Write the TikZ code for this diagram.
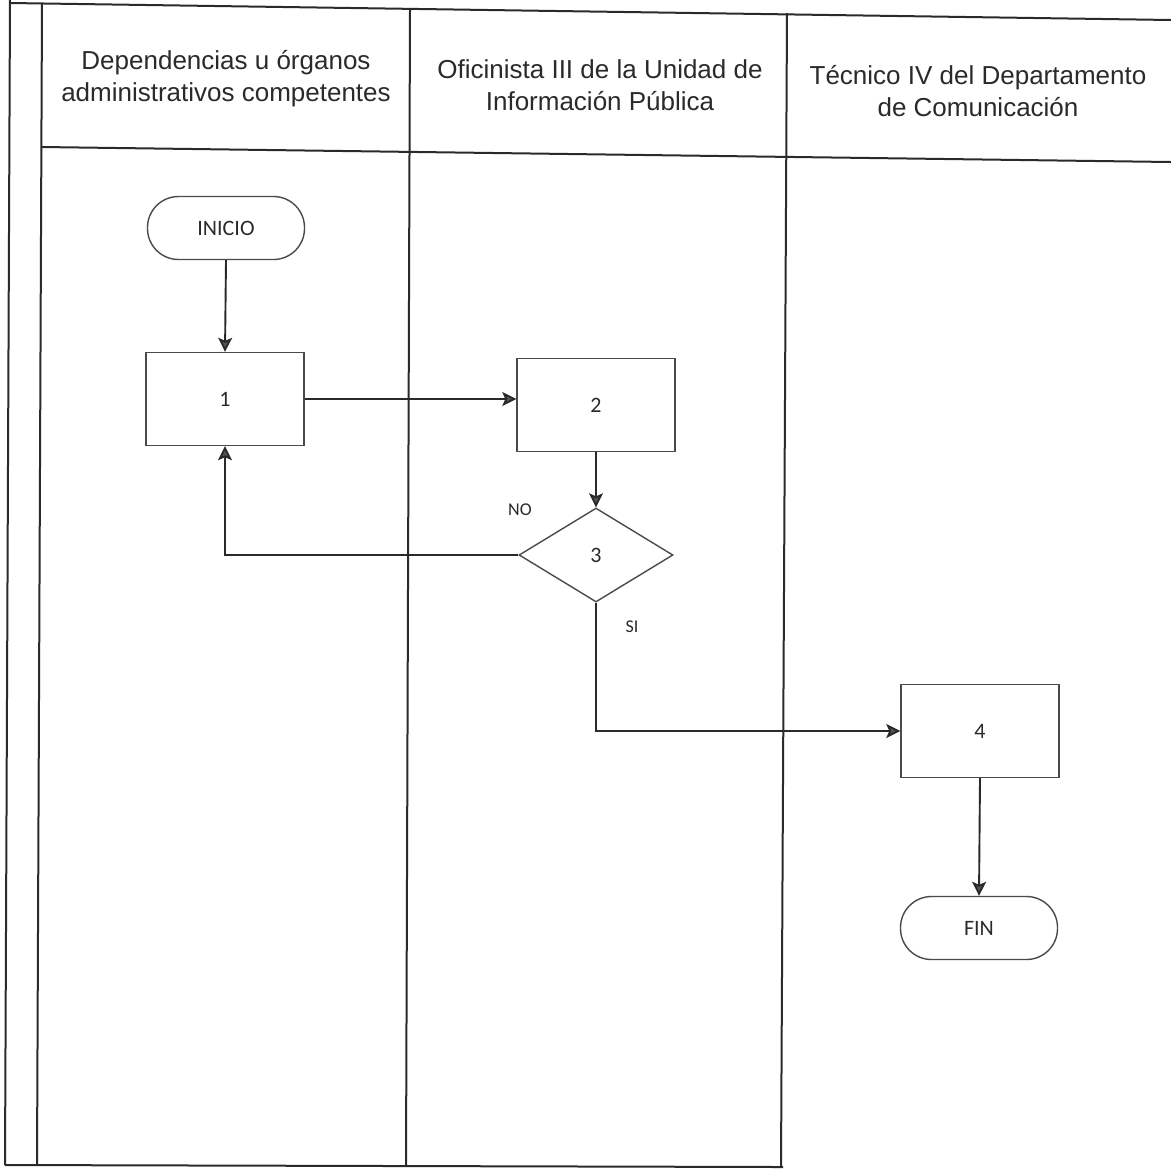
\documentclass[tikz,border=0pt]{standalone}
\usepackage{fontspec}
\setmainfont{Liberation Sans}
\newfontfamily\flowfont{Carlito}
\usetikzlibrary{shapes.geometric,arrows.meta}
\definecolor{ink}{HTML}{2A2A2A}
\definecolor{boxink}{HTML}{4A4A4A}
\definecolor{headfill}{HTML}{555555}
\begin{document}
\begin{tikzpicture}[x=0.5pt,y=-0.5pt,
  tableline/.style={draw=ink,line width=1pt},
  hdr/.style={align=center,text=ink,font=\fontsize{13}{16}\selectfont,inner sep=0pt},
  proc/.style={draw=boxink,line width=0.7pt,minimum width=79pt,minimum height=46.5pt,inner sep=0pt,font=\flowfont\fontsize{11}{13}\selectfont,text=ink},
  term/.style={draw=boxink,line width=0.7pt,minimum width=78.5pt,minimum height=31.5pt,rounded corners=15.5pt,inner sep=0pt,font=\flowfont\fontsize{11}{13}\selectfont,text=ink},
  decis/.style={draw=boxink,line width=0.7pt,shape=diamond,minimum width=77pt,minimum height=47pt,inner sep=0pt,font=\flowfont\fontsize{11}{13}\selectfont,text=ink},
  lbl/.style={font=\flowfont\fontsize{9}{11}\selectfont,text=ink,inner sep=0pt},
  flow/.style={draw=ink,line width=0.95pt,-{Stealth[length=7pt,width=7pt,inset=1.5pt,fill=headfill]}}
]
\useasboundingbox (0,0) rectangle (1171,1169);
% table frame
\draw[tableline] (10,0) -- (5,1165);
\draw[tableline] (42,3) -- (37,1165);
\draw[tableline] (410,9) -- (406,1166);
\draw[tableline] (787,13) -- (781,1167);
\draw[tableline] (10,3) -- (1171,20);
\draw[tableline] (42,147) -- (1171,162);
\draw[tableline] (5,1165) -- (783,1167);
% headers
\node[hdr] (h1) at (226,79) {Dependencias u órganos\\administrativos competentes};
\node[hdr] (h2) at (600,85) {Oficinista III de la Unidad de\\Información Pública};
\node[hdr] (h3) at (978,91) {Técnico IV del Departamento\\de Comunicación};
% flow nodes
\node[term] (ini) at (226,228) {INICIO};
\node[proc] (b1) at (225,399) {1};
\node[proc] (b2) at (596,405) {2};
\node[decis] (d3) at (596,555) {3};
\node[proc] (b4) at (980,731) {4};
\node[term] (fin) at (979,928) {FIN};
\node[lbl] (no) at (520,510) {NO};
\node[lbl] (si) at (632,627) {SI};
% connectors
\draw[flow] (ini.south) -- (b1.north);
\draw[flow] (b1.east) -- (b1.east -| b2.west);
\draw[flow] (b2.south) -- (d3.north);
\draw[flow] (d3.west) -| (b1.south);
\draw[flow] (d3.south) |- (b4.west);
\draw[flow] (b4.south) -- (fin.north);
\end{tikzpicture}
\end{document}
